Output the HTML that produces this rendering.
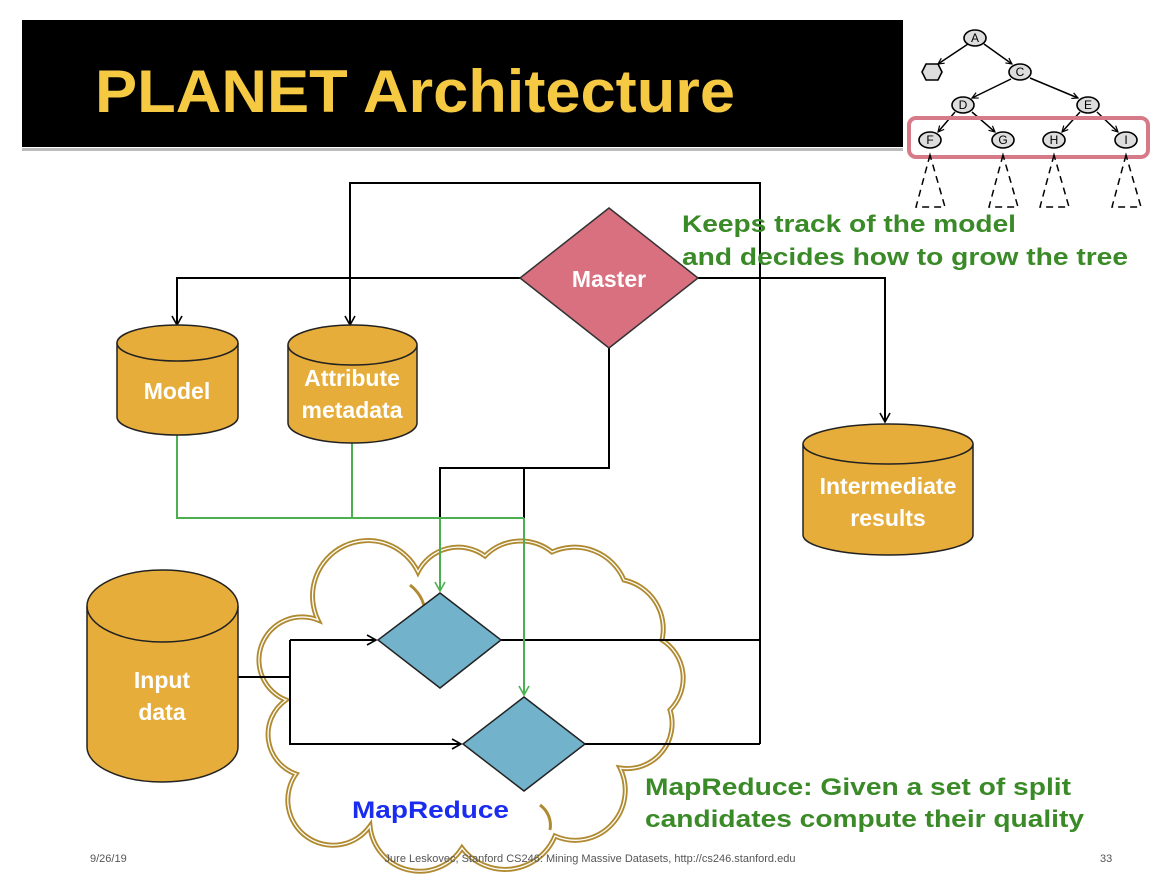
<!DOCTYPE html>
<html><head><meta charset="utf-8"><style>
html,body{margin:0;padding:0;background:#fff;}
svg{display:block;}
</style></head><body>
<svg width="1164" height="896" viewBox="0 0 1164 896" xmlns="http://www.w3.org/2000/svg" font-family="Liberation Sans, sans-serif">
<defs>
<marker id="ab" markerWidth="12" markerHeight="12" refX="10" refY="6" orient="auto" markerUnits="userSpaceOnUse"><path d="M1,1 L10,6 L1,11" fill="none" stroke="#000" stroke-width="1.6"/></marker>
<marker id="ag" markerWidth="12" markerHeight="12" refX="10" refY="6" orient="auto" markerUnits="userSpaceOnUse"><path d="M1,1 L10,6 L1,11" fill="none" stroke="#4caf50" stroke-width="1.6"/></marker>
<marker id="at" markerWidth="8" markerHeight="8" refX="7" refY="4" orient="auto" markerUnits="userSpaceOnUse"><path d="M1,1 L7,4 L1,7" fill="none" stroke="#000" stroke-width="1.2"/></marker>
</defs>
<rect x="22" y="20" width="881" height="127" fill="#000"/>
<rect x="22" y="148" width="881" height="3" fill="#bbb"/>
<text x="95" y="112" font-size="60" font-weight="bold" fill="#f6c943" textLength="640" lengthAdjust="spacingAndGlyphs">PLANET Architecture</text>

<g stroke="#000" stroke-width="1.5" fill="none">
<line x1="968" y1="44" x2="938" y2="64" marker-end="url(#at)"/>
<line x1="984" y1="44" x2="1012" y2="64" marker-end="url(#at)"/>
<line x1="1011" y1="79" x2="972" y2="98" marker-end="url(#at)"/>
<line x1="1030" y1="78" x2="1078" y2="98" marker-end="url(#at)"/>
<line x1="955" y1="112" x2="938" y2="132" marker-end="url(#at)"/>
<line x1="972" y1="112" x2="995" y2="132" marker-end="url(#at)"/>
<line x1="1080" y1="112" x2="1062" y2="132" marker-end="url(#at)"/>
<line x1="1097" y1="112" x2="1118" y2="132" marker-end="url(#at)"/>
</g>
<g stroke="#000" stroke-width="1.6" fill="#ddd">
<ellipse cx="975" cy="38" rx="11" ry="8"/>
<polygon points="922,72 926,64 938,64 942,72 938,80 926,80"/>
<ellipse cx="1020" cy="72" rx="11" ry="8"/>
<ellipse cx="963" cy="105" rx="11" ry="8"/>
<ellipse cx="1088" cy="105" rx="11" ry="8"/>
<ellipse cx="930" cy="140" rx="11" ry="8"/>
<ellipse cx="1003" cy="140" rx="11" ry="8"/>
<ellipse cx="1054" cy="140" rx="11" ry="8"/>
<ellipse cx="1126" cy="140" rx="11" ry="8"/>
</g>
<g font-size="12" text-anchor="middle" fill="#000">
<text x="975" y="42">A</text><text x="1020" y="76">C</text><text x="963" y="109">D</text><text x="1088" y="109">E</text>
<text x="930" y="144">F</text><text x="1003" y="144">G</text><text x="1054" y="144">H</text><text x="1126" y="144">I</text>
</g>
<rect x="909" y="118" width="239" height="39" rx="7" fill="none" stroke="#d77a88" stroke-width="4"/>
<g stroke="#000" stroke-width="1.5" fill="none" stroke-dasharray="7,5">
<path d="M930,155 L916,207 L945,207 Z"/>
<path d="M1003,155 L989,207 L1018,207 Z"/>
<path d="M1054,155 L1040,207 L1069,207 Z"/>
<path d="M1126,155 L1112,207 L1141,207 Z"/>
</g>

<path id="cl" d="M318,620 A54 54 0 0 1 418,572 A45 45 0 0 1 485,556 A50 50 0 0 1 552,552 A54 54 0 0 1 624,580 A50 50 0 0 1 662,640 A45 45 0 0 1 670,710 A45 45 0 0 1 620,768 A50 50 0 0 1 555,836 A54 54 0 0 1 462,848 A50 50 0 0 1 370,826 A45 45 0 0 1 296,774 A42 42 0 0 1 286,700 A42 42 0 0 1 318,620 Z" fill="#fff" stroke="#b08a30" stroke-width="5"/>
<path d="M318,620 A54 54 0 0 1 418,572 A45 45 0 0 1 485,556 A50 50 0 0 1 552,552 A54 54 0 0 1 624,580 A50 50 0 0 1 662,640 A45 45 0 0 1 670,710 A45 45 0 0 1 620,768 A50 50 0 0 1 555,836 A54 54 0 0 1 462,848 A50 50 0 0 1 370,826 A45 45 0 0 1 296,774 A42 42 0 0 1 286,700 A42 42 0 0 1 318,620 Z" fill="none" stroke="#fff" stroke-width="1.3"/>
<g fill="none" stroke="#b08a30" stroke-width="3">
<path d="M410,585 A40 40 0 0 1 425,610"/>
<path d="M550,830 A25 25 0 0 0 540,805"/>
</g>

<g stroke="#000" stroke-width="2" fill="none">
<polyline points="520,278 177,278 177,325" marker-end="url(#ab)"/>
<polyline points="760,744 760,183 350,183 350,325" marker-end="url(#ab)"/>
<polyline points="698,278 885,278 885,422" marker-end="url(#ab)"/>
<polyline points="609,348 609,468 440,468 440,518"/>
<line x1="524" y1="468" x2="524" y2="518"/>
<line x1="501" y1="640" x2="760" y2="640"/>
<line x1="585" y1="744" x2="760" y2="744"/>
<line x1="238" y1="677" x2="290" y2="677"/>
<polyline points="290,640 290,744 461,744" marker-end="url(#ab)"/>
<line x1="290" y1="640" x2="376" y2="640" marker-end="url(#ab)"/>
</g>
<g stroke="#4caf50" stroke-width="2" fill="none">
<polyline points="177,433 177,518 524,518"/>
<line x1="352" y1="443" x2="352" y2="518"/>
<line x1="440" y1="518" x2="440" y2="591" marker-end="url(#ag)"/>
<line x1="524" y1="518" x2="524" y2="695" marker-end="url(#ag)"/>
</g>

<polygon points="609,208 698,278 609,348 520,278" fill="#d87080" stroke="#333" stroke-width="1.5"/>
<text x="609" y="287" font-size="23" font-weight="bold" fill="#fff" text-anchor="middle">Master</text>

<polygon points="440,593 501,640 440,688 378,640" fill="#72b3cb" stroke="#222" stroke-width="1.5"/>
<polygon points="524,697 585,744 524,791 463,744" fill="#72b3cb" stroke="#222" stroke-width="1.5"/>

<g fill="#e6ad3b" stroke="#222" stroke-width="1.5">
<path d="M117,343 L117,417 A60.5 18 0 0 0 238,417 L238,343"/>
<ellipse cx="177.5" cy="343" rx="60.5" ry="18"/>
<path d="M288,345 L288,423 A64.5 20 0 0 0 417,423 L417,345"/>
<ellipse cx="352.5" cy="345" rx="64.5" ry="20"/>
<path d="M803,444 L803,535 A85 20 0 0 0 973,535 L973,444"/>
<ellipse cx="888" cy="444" rx="85" ry="20"/>
<path d="M87,606 L87,747 A75.5 35 0 0 0 238,747 L238,606"/>
<ellipse cx="162.5" cy="606" rx="75.5" ry="36"/>
</g>
<g fill="#fff" font-size="23" font-weight="bold" text-anchor="middle">
<text x="177" y="399">Model</text>
<text x="352" y="386">Attribute</text>
<text x="352" y="418">metadata</text>
<text x="888" y="494">Intermediate</text>
<text x="888" y="526">results</text>
<text x="162" y="688">Input</text>
<text x="162" y="720">data</text>
</g>

<g fill="#3a8a28" font-size="24" font-weight="bold">
<text x="682" y="232" textLength="334" lengthAdjust="spacingAndGlyphs">Keeps track of the model</text>
<text x="682" y="265" textLength="446" lengthAdjust="spacingAndGlyphs">and decides how to grow the tree</text>
<text x="645" y="795" textLength="426" lengthAdjust="spacingAndGlyphs">MapReduce: Given a set of split</text>
<text x="645" y="827" textLength="439" lengthAdjust="spacingAndGlyphs">candidates compute their quality</text>
</g>
<text x="352" y="818" fill="#1a2cf0" font-size="24" font-weight="bold" textLength="157" lengthAdjust="spacingAndGlyphs">MapReduce</text>

<g fill="#555" font-size="11">
<text x="90" y="862">9/26/19</text>
<text x="590" y="862" text-anchor="middle">Jure Leskovec, Stanford CS246: Mining Massive Datasets, http://cs246.stanford.edu</text>
<text x="1100" y="862">33</text>
</g>
</svg>
</body></html>
